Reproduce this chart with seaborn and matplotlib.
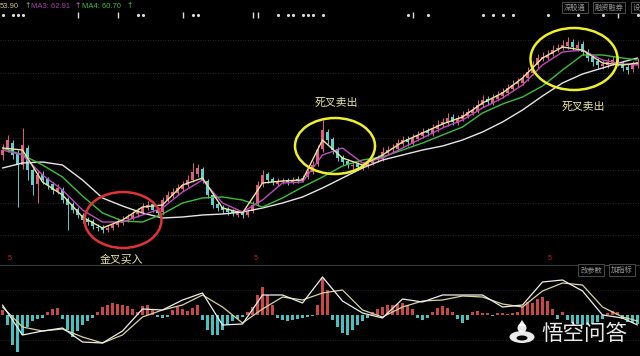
import matplotlib
matplotlib.use("Agg")
import matplotlib.pyplot as plt
from matplotlib.patches import Ellipse, Circle, Polygon
import numpy as np
import seaborn as sns

# daily candles (one per bar)
opens = [44.0, 45.2, 46.5, 44.5, 42.0, 45.5, 41.0, 38.2, 40.2, 39.2,
         38.2, 36.8, 37.2, 35.2, 34.2, 33.2, 32.0, 31.2, 30.8, 29.6,
         29.6, 29.0, 29.5, 30.0, 30.4, 31.2, 31.4, 32.2, 32.6, 33.4,
         34.2, 33.0, 32.6, 35.0, 35.8, 36.4, 37.2, 38.0, 39.0, 40.2,
         41.2, 38.8, 36.0, 34.2, 33.6, 33.2, 32.8, 32.0, 32.6, 32.0,
         32.8, 34.2, 38.2, 40.2, 39.2, 38.2, 38.6, 39.0, 38.6, 39.2,
         39.0, 39.6, 40.6, 42.2, 45.2, 48.6, 47.2, 45.2, 43.6, 42.8,
         41.8, 42.2, 41.4, 41.8, 42.4, 43.2, 43.2, 44.4, 45.2, 45.2,
         46.2, 47.2, 46.4, 47.2, 47.8, 48.8, 48.2, 49.2, 50.2, 50.4,
         51.6, 50.4, 51.2, 51.8, 52.4, 52.8, 54.0, 55.2, 54.4, 55.2,
         55.8, 56.4, 57.2, 58.2, 58.4, 59.4, 60.4, 62.0, 63.2, 63.4,
         64.2, 65.2, 65.4, 65.8, 66.6, 65.4, 66.2, 64.6, 63.6, 62.8,
         61.8, 62.0, 62.4, 63.2, 62.4, 61.6, 61.2, 62.0]
closes = [45.0, 47.0, 44.0, 42.0, 46.0, 41.0, 38.0, 40.0, 39.0, 38.0,
          37.0, 37.4, 35.0, 34.0, 33.0, 32.0, 31.0, 30.6, 29.8, 29.4,
          29.0, 29.4, 30.0, 30.6, 31.0, 31.4, 32.0, 32.6, 33.6, 34.0,
          33.0, 32.4, 35.0, 36.0, 36.6, 37.4, 38.0, 39.0, 40.6, 41.4,
          39.0, 36.0, 34.0, 33.4, 33.0, 32.6, 32.4, 32.4, 32.0, 32.6,
          34.0, 38.0, 40.0, 39.0, 38.6, 38.6, 38.8, 38.6, 39.0, 39.0,
          39.4, 40.6, 42.0, 45.0, 49.0, 47.0, 45.0, 43.4, 42.6, 42.0,
          42.0, 41.6, 42.0, 42.4, 43.0, 43.4, 44.6, 45.0, 45.4, 46.4,
          47.0, 46.6, 47.4, 48.0, 48.6, 48.4, 49.4, 50.0, 50.6, 51.4,
          50.6, 51.4, 52.0, 52.6, 53.0, 54.0, 55.0, 54.6, 55.4, 56.0,
          56.6, 57.4, 58.0, 58.6, 59.4, 60.6, 62.0, 63.4, 63.6, 64.0,
          65.0, 65.4, 66.0, 66.6, 65.6, 66.0, 64.6, 63.4, 62.6, 62.0,
          62.2, 62.6, 63.0, 62.4, 61.4, 61.0, 62.0, 62.6]
highs = [46.2, 48.0, 47.0, 45.0, 49.4, 46.0, 41.5, 41.0, 40.8, 39.6,
         38.6, 38.2, 37.6, 35.6, 34.6, 33.6, 32.4, 31.6, 31.2, 30.2,
         30.0, 30.0, 30.6, 31.4, 31.8, 32.2, 32.8, 33.4, 34.4, 34.8,
         34.8, 33.4, 35.6, 36.8, 37.4, 38.2, 38.8, 40.0, 42.4, 42.2,
         41.6, 39.2, 36.4, 34.6, 34.0, 33.6, 33.2, 33.0, 33.0, 33.2,
         34.8, 38.8, 41.0, 40.6, 39.6, 39.4, 39.4, 39.4, 39.6, 39.8,
         40.0, 41.2, 42.8, 46.0, 51.0, 49.2, 47.6, 45.6, 44.0, 43.2,
         42.6, 42.6, 42.6, 43.0, 43.6, 44.0, 45.6, 45.8, 46.2, 47.2,
         47.8, 47.8, 48.2, 48.8, 49.4, 49.4, 50.2, 51.0, 51.4, 52.4,
         52.2, 52.0, 52.8, 53.4, 53.8, 55.0, 56.0, 55.8, 56.2, 56.8,
         57.4, 58.2, 59.0, 59.4, 60.2, 61.6, 62.8, 64.2, 64.6, 65.0,
         66.0, 66.2, 67.0, 67.6, 67.2, 66.8, 66.8, 65.2, 64.0, 63.4,
         63.0, 63.4, 63.8, 63.8, 62.8, 62.2, 62.8, 63.4]
lows = [43.0, 44.6, 43.2, 33.6, 41.2, 39.0, 36.0, 34.4, 38.2, 37.2,
        36.2, 36.2, 34.4, 29.0, 32.4, 31.4, 30.4, 30.0, 29.2, 28.8,
        28.4, 28.6, 29.0, 29.6, 30.0, 30.6, 31.0, 31.6, 32.2, 33.0,
        32.6, 31.8, 32.0, 34.6, 35.4, 36.0, 36.8, 37.6, 38.6, 39.6,
        38.4, 35.4, 33.4, 32.8, 32.4, 32.0, 31.8, 31.6, 31.4, 31.6,
        32.4, 33.8, 37.6, 38.4, 38.0, 37.8, 38.2, 38.0, 38.2, 38.4,
        38.6, 39.2, 40.2, 41.8, 44.6, 46.2, 44.2, 42.8, 42.0, 41.4,
        41.2, 41.0, 41.0, 41.4, 42.0, 42.6, 42.8, 44.0, 44.6, 44.8,
        45.8, 45.8, 46.0, 46.8, 47.4, 47.8, 47.8, 48.6, 49.6, 49.8,
        50.0, 50.0, 50.8, 51.4, 52.0, 52.4, 53.6, 54.0, 54.0, 54.8,
        55.4, 56.0, 56.8, 57.6, 58.0, 58.8, 60.0, 61.4, 62.8, 63.0,
        63.8, 64.6, 65.0, 65.2, 65.0, 64.8, 64.0, 62.8, 61.8, 61.2,
        61.2, 61.4, 62.0, 61.8, 60.8, 60.2, 60.6, 61.4]

# moving averages read every 4th bar
ma_bars = [0, 4, 8, 12, 16, 20, 24, 28, 32, 36, 40, 44, 48, 52, 56, 60,
           64, 68, 72, 76, 80, 84, 88, 92, 96, 100, 104, 108, 112, 116,
           120, 124, 127]
ma_white = [41.4, 42.4, 42.6, 42.0, 39.0, 35.4, 33.8, 32.4, 31.4, 31.6, 32.0,
            32.2, 32.6, 33.4, 34.4, 35.6, 37.4, 39.4, 41.4, 43.0, 44.0, 45.0,
            45.8, 47.0, 48.6, 50.6, 53.0, 55.8, 58.4, 60.2, 61.4, 62.6, 63.4]
ma_green = [45.4, 44.0, 42.0, 39.6, 35.8, 32.4, 30.8, 30.6, 32.2, 34.4, 35.4,
            35.6, 35.0, 33.6, 35.4, 37.6, 39.6, 41.8, 43.0, 43.6, 45.0, 46.4,
            48.0, 49.6, 52.4, 54.2, 55.6, 57.8, 61.0, 64.0, 64.0, 63.4, 63.0]
ma_purple = [45.0, 44.0, 40.0, 37.0, 33.0, 30.6, 30.6, 32.0, 33.4, 36.6, 39.0,
             34.4, 32.6, 35.0, 38.4, 38.6, 44.0, 45.4, 42.4, 43.4, 45.4, 47.4,
             49.4, 51.0, 53.4, 55.4, 58.0, 62.0, 64.6, 65.0, 63.0, 62.2, 62.0]
ma_yellow = [45.4, 45.0, 38.6, 36.0, 31.6, 29.4, 31.0, 33.6, 34.0, 38.0, 39.4,
             33.4, 32.4, 38.4, 38.8, 39.0, 47.0, 43.4, 42.0, 44.0, 46.6, 48.4,
             50.2, 51.6, 54.4, 56.4, 59.4, 63.4, 65.6, 65.0, 62.4, 62.0, 62.4]

# MACD panel
macd_hist = [0.5, -1.0, -3.0, -3.7, -2.0, -1.2, -0.6, -0.4, -0.3, 0.3,
             0.6, 0.7, -0.4, -1.5, -2.2, -1.6, -1.0, -0.6, -0.3, 0.3,
             0.8, 1.0, 1.2, 1.1, 1.0, 0.9, 0.6, 0.3, 0.9, 1.0,
             0.5, -0.2, -0.3, -0.2, 0.5, 0.8, 0.6, 0.4, 0.7, 1.0,
             -0.5, -1.5, -2.0, -2.0, -1.5, -1.0, -0.6, -0.4, -0.2, 0.3,
             0.8, 2.0, 2.8, 2.0, 1.0, -0.3, -0.5, -0.6, -0.5, -0.4,
             -0.3, -0.2, -0.1, 1.0, 3.7, 2.5, -0.5, -1.2, -1.8, -2.0,
             -1.5, -1.0, -0.6, -0.3, 0.3, 0.6, 0.8, 1.0, 1.0, 1.1,
             1.2, 1.0, 0.6, -0.3, -0.5, -0.3, 0.3, 0.7, 0.9, 0.7,
             0.3, -0.4, -0.8, -0.5, 0.3, 0.4, 0.2, 0.2, -0.1, 0.2,
             0.2, 0.1, 0.2, 0.3, 0.8, 1.3, 1.2, 1.6, 1.8, 1.4,
             0.6, -0.4, 0.3, -0.5, -0.8, -0.9, -1.0, -1.0, -0.9, -0.7,
             -0.4, 0.2, 0.4, 0.3, -0.4, -0.7, -0.8, -0.9]
dif = [1.0, -2.0, -1.6, -1.3, -2.7, -2.8, -1.6, 0.6, 0.5, 1.5, 2.2, -1.0,
       -0.9, 2.0, 2.0, 1.2, 3.8, 1.4, 0.2, -0.3, 1.6, 1.3, 2.0, 2.0, 2.0,
       0.8, 1.0, 3.3, 3.5, 2.4, 0.0, -0.3, -1.0]
dea = [0.8, -1.2, -1.6, -1.4, -2.2, -2.8, -2.0, -0.2, 0.5, 1.0, 2.0, 0.8,
       -0.8, 0.6, 1.8, 1.5, 2.2, 2.5, 0.5, -0.2, 0.8, 1.4, 1.5, 1.9, 1.8,
       1.1, 0.8, 2.4, 3.2, 3.0, 0.8, -0.2, -0.6]

# info-mine markers and signal flags (bar index)
event_dots = [0, 2, 3, 4, 27, 28, 38, 39, 55, 57, 58, 60, 61, 62, 64, 81,
              85, 96, 98, 100, 102, 109, 115, 120, 127]
event_ticks = [15, 23, 36, 50, 51, 82, 123]
signal_bars = [1.5, 50.7, 109.5]

header = [("53.90", "#c8c490", "#6fc06f"), ("MA3: 62.91", "#b43cb4", "#d060c0"),
          ("MA4: 60.70", "#3cc03c", "#3cc03c")]

UP = "#e0607a"
DOWN = "#5fcfcf"

sns.set_theme(style="dark", rc={"axes.facecolor": "black", "figure.facecolor": "black"})
plt.rcParams["font.family"] = ["Liberation Sans", "DejaVu Sans", "Noto Sans CJK SC"]
CJK = ["Noto Sans CJK SC", "DejaVu Sans"]

fig = plt.figure(figsize=(6.4, 3.56), dpi=100)
H_MAIN = 265 / 356
ax = fig.add_axes([0, 1 - H_MAIN, 1, H_MAIN])
mx = fig.add_axes([0, 0, 1, 1 - H_MAIN])

idx = np.arange(len(closes))
o = np.array(opens)
c = np.array(closes)
col = np.where(c >= o, UP, DOWN)

# price panel
ax.set_xlim(-0.5, 127.5)
ax.set_ylim(22, 75)
ax.set_yticks([28, 34.5, 41, 47.5, 54, 60.5, 67])
ax.grid(axis="y", color="#333333", ls=(0, (1, 2)), lw=0.6)
ax.grid(axis="x", visible=False)
ax.tick_params(labelleft=False, labelbottom=False, length=0)
ax.set_xticks([])
for s in ax.spines.values():
    s.set_visible(False)

ax.vlines(idx, lows, highs, colors=col, lw=0.7)
ax.bar(idx, np.maximum(np.abs(c - o), 0.25), bottom=np.minimum(o, c),
       width=0.6, color=col, lw=0)

for vals, color in [(ma_white, "#e6e6e6"), (ma_green, "#3cc03c"),
                    (ma_purple, "#c04cc0"), (ma_yellow, "#e8e6a0")]:
    sns.lineplot(x=ma_bars, y=vals, ax=ax, color=color, lw=1.0, legend=False)

ax.scatter(event_dots, [72] * len(event_dots), s=5, color="#dddddd", marker="o", lw=0)
ax.scatter(event_ticks, [72] * len(event_ticks), s=14, color="#dddddd", marker="|", lw=1.0)
for b in signal_bars:
    ax.text(b, 23.4, "5", color="#d02020", fontsize=5, ha="center", va="center")

# MACD panel
mx.set_xlim(-0.5, 127.5)
mx.set_ylim(-4.1, 5.0)
mx.set_yticks([-2.5, 2.5])
mx.grid(axis="y", color="#2a2a2a", ls=(0, (1, 2)), lw=0.6)
mx.set_xticks([])
mx.tick_params(labelleft=False, labelbottom=False, length=0)
for s in mx.spines.values():
    s.set_visible(False)
mx.spines["top"].set_visible(True)
mx.spines["top"].set_color("#3a3a3a")
mx.spines["top"].set_linewidth(0.8)

h = np.array(macd_hist)
mx.bar(idx, h, width=0.6, color=np.where(h >= 0, "#c84848", "#48c0c0"), lw=0)
sns.lineplot(x=ma_bars, y=dea, ax=mx, color="#d8d498", lw=0.9, legend=False)
sns.lineplot(x=ma_bars, y=dif, ax=mx, color="#eeeeee", lw=0.9, legend=False)

# overlay in pixel coordinates for annotations
ov = fig.add_axes([0, 0, 1, 1])
ov.set_xlim(0, 640)
ov.set_ylim(356, 0)
ov.axis("off")
ov.patch.set_alpha(0)

hx = [0, 31, 82]
ax_arrow = [24, 74, 126]
for (label, tcol, acol), x0, xa in zip(header, hx, ax_arrow):
    ov.text(x0, 6, label, color=tcol, fontsize=5.5, va="center", ha="left")
    ov.text(xa, 6, "↑", color=acol, fontsize=5.5, va="center", ha="left",
            family=["DejaVu Sans"])

btn = dict(boxstyle="square,pad=0.25", fc="black", ec="#555555", lw=0.6)
for label, x in [("深股通", 575), ("融资融券", 609)]:
    ov.text(x, 7.5, label, color="#9a9a9a", fontsize=5.2, ha="center", va="center",
            family=CJK, bbox=btn)
ov.text(633, 7.5, "设", color="#9a9a9a", fontsize=5.2, ha="left", va="center",
        family=CJK, bbox=btn)
for label, x in [("改参数", 591), ("加指标", 622)]:
    ov.text(x, 270, label, color="#9a9a9a", fontsize=5.2, ha="center", va="center",
            family=CJK, bbox=btn)

# highlight circles and labels
ov.add_patch(Ellipse((123, 220), 77, 56, fill=False, ec="#e03434", lw=1.8))
ov.add_patch(Ellipse((335, 146), 80, 56, fill=False, ec="#f0f028", lw=1.8))
ov.add_patch(Ellipse((574, 59), 87, 62, fill=False, ec="#f0f028", lw=1.8))
for txt, x, y in [("金叉买入", 121, 260), ("死叉卖出", 336, 103), ("死叉卖出", 583, 107)]:
    ov.text(x, y, txt, color="#ece6a0", fontsize=7.8, ha="center", va="center", family=CJK)

# watermark
ov.add_patch(Ellipse((522, 337), 25, 12, fc="white", ec="none", alpha=0.92))
ov.add_patch(Ellipse((522, 338), 11, 5, fc="black", ec="none"))
ov.add_patch(Circle((522, 328), 4.5, fc="white", ec="none", alpha=0.92))
ov.add_patch(Polygon([(518, 326), (526, 326), (522, 320)], fc="white", ec="none", alpha=0.92))
ov.text(584, 334, "悟空问答", color="white", alpha=0.92, fontsize=15.5,
        ha="center", va="center", family=CJK)

fig.savefig("out.png", dpi=100, facecolor="black")
